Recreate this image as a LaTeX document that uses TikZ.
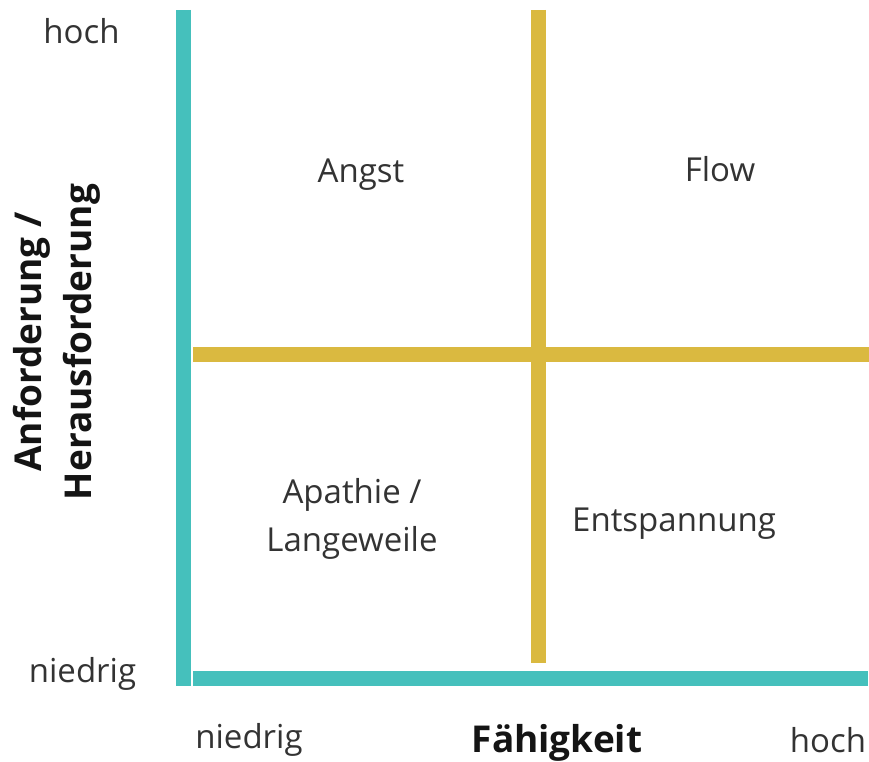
\documentclass[tikz,border=0pt]{standalone}
\usepackage{fontspec}
\setmainfont{Open Sans}
\begin{document}
\begin{tikzpicture}[x=1pt,y=-1pt,
  axisline/.style={line width=15pt,draw=axisteal},
  gridline/.style={line width=15pt,draw=gridgold},
  lbl/.style={font=\fontsize{33}{48}\selectfont,text=black!80,inner sep=0pt,anchor=base,align=center},
  title/.style={font=\fontsize{37}{50}\selectfont\bfseries,text=black!92,inner sep=0pt,align=center}]
\definecolor{axisteal}{RGB}{69,192,188}
\definecolor{gridgold}{RGB}{218,185,64}
\useasboundingbox (0,0) rectangle (869,762);
% axes
\coordinate (ytop) at (183.3,10);
\coordinate (ybot) at (183.3,686);
\coordinate (xleft) at (193,678.5);
\coordinate (xright) at (868,678.5);
\draw[axisline] (ytop) -- (ybot);
\draw[axisline] (xleft) -- (xright);
% quadrant dividers
\coordinate (vtop) at (538.5,10);
\coordinate (vbot) at (538.5,663);
\coordinate (hleft) at (193,354.5);
\coordinate (hright) at (869,354.5);
\draw[gridline] (vtop) -- (vbot);
\draw[gridline] (hleft) -- (hright);
% axis ends
\node[lbl] (yhigh) at (81.5,44) {hoch};
\node[lbl] (ylow) at (82.5,682) {niedrig};
\node[lbl] (xlow) at (249,748) {niedrig};
\node[lbl] (xhigh) at (828,752) {hoch};
% quadrants
\node[lbl] (angst) at (361,182.5) {Angst};
\node[lbl] (flow) at (720,182) {Flow};
\node[lbl] (apathie) at (352,551) {Apathie /\\Langeweile};
\node[lbl] (entsp) at (674,531) {Entspannung};
% axis titles
\node[title,anchor=base] (xtitle) at (557,752.5) {Fähigkeit};
\node[title,rotate=90] (ytitle) at (57,342) {Anforderung /\\Herausforderung};
\end{tikzpicture}
\end{document}
